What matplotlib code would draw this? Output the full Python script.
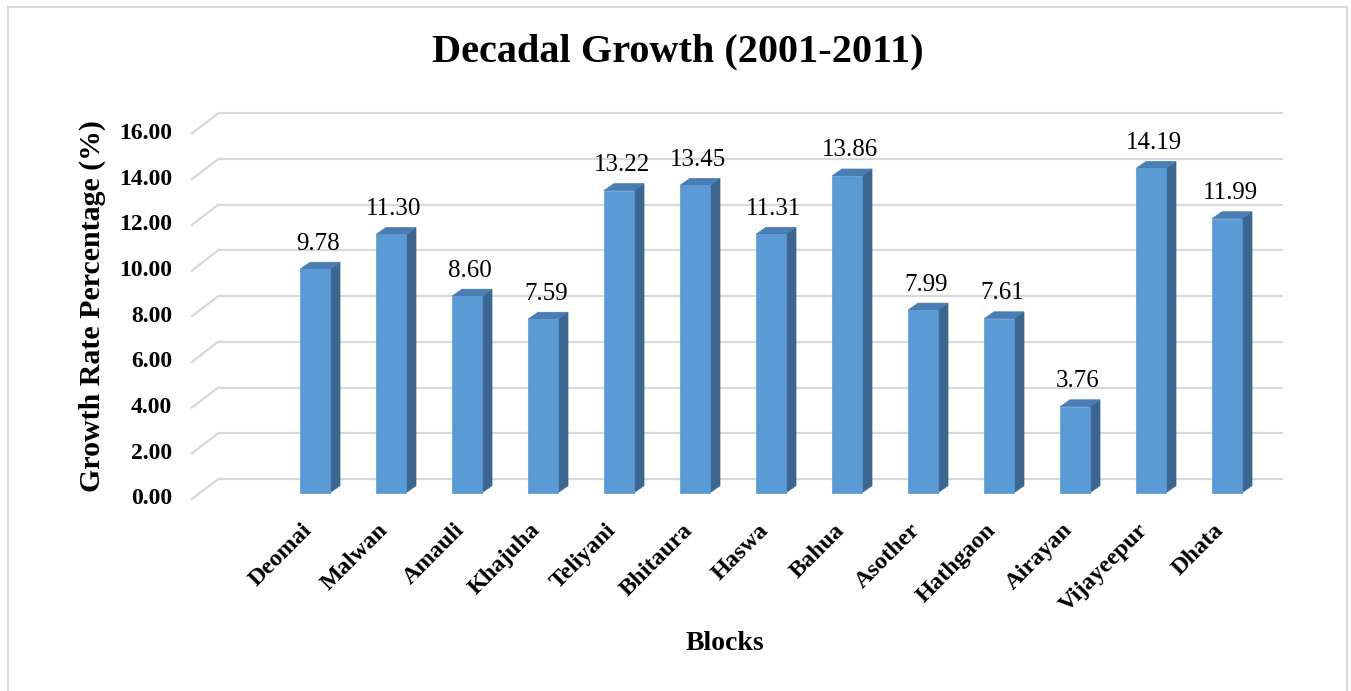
import matplotlib
matplotlib.use("Agg")
import matplotlib.pyplot as plt
from matplotlib.patches import Polygon, Rectangle

# ---- data ----
categories = ["Deomai", "Malwan", "Amauli", "Khajuha", "Teliyani", "Bhitaura",
              "Haswa", "Bahua", "Asother", "Hathgaon", "Airayan", "Vijayeepur", "Dhata"]
values = [9.78, 11.30, 8.60, 7.59, 13.22, 13.45, 11.31, 13.86, 7.99, 7.61, 3.76, 14.19, 11.99]
yticks = [0, 2, 4, 6, 8, 10, 12, 14, 16]
ytick_labels = [f"{t:.2f}" for t in yticks]
title = "Decadal Growth (2001-2011)"
ylabel = "Growth Rate Percentage (%)"
xlabel = "Blocks"

# ---- style ----
FONT = "Liberation Serif"
plt.rcParams['font.family'] = [FONT, 'DejaVu Serif']
W, H = 1351, 691
PX_X = 76.0      # pixels per category
PX_Y = 22.85     # pixels per unit value
X0, Y0 = 315.0, 492.7   # pixel of category 0 / value 0 (bar plane)

front_c = "#5B9BD5"
side_c = "#3B6690"
top_c = "#4A7DB4"
grid_c = "#D9D9D9"

fig = plt.figure(figsize=(W / 100, H / 100), dpi=100)
ax = fig.add_axes([0, 0, 1, 1])
ax.set_xlim(-X0 / PX_X, (W - X0) / PX_X)
ax.set_ylim((Y0 - H) / PX_Y, Y0 / PX_Y)
ax.axis("off")

# depth geometry
bw = 30 / PX_X
bdx, bdy = 10 / PX_X, 7 / PX_Y
wall_dy = (Y0 - 479) / PX_Y
front_dy = -(499 - Y0) / PX_Y
wall_x0 = (218 - X0) / PX_X
wall_x1 = (1283 - X0) / PX_X
front_x0 = (192 - X0) / PX_X

for t, lab in zip(yticks, ytick_labels):
    ax.plot([wall_x0, wall_x1], [t + wall_dy, t + wall_dy], color=grid_c, lw=1.6,
            zorder=1, solid_capstyle="butt")
    ax.plot([front_x0, wall_x0], [t + front_dy, t + wall_dy], color=grid_c, lw=1.6,
            zorder=1)
    ax.text((172 - X0) / PX_X, t + front_dy, lab, ha="right", va="center",
            fontsize=17, fontweight="bold", color="#000000")

for i, (cat, v) in enumerate(zip(categories, values)):
    xl, xr = i - bw / 2, i + bw / 2
    side = Polygon([(xr, 0), (xr + bdx, bdy), (xr + bdx, v + bdy), (xr, v)],
                   closed=True, facecolor=side_c, edgecolor=side_c, lw=0.5, zorder=3)
    top = Polygon([(xl, v), (xr, v), (xr + bdx, v + bdy), (xl + bdx, v + bdy)],
                  closed=True, facecolor=top_c, edgecolor=top_c, lw=0.5, zorder=3)
    front = Polygon([(xl, 0), (xr, 0), (xr, v), (xl, v)], closed=True,
                    facecolor=front_c, edgecolor=front_c, lw=0.5, zorder=4)
    for p in (side, top, front):
        ax.add_patch(p)
    ax.text(i + 0.04, v + bdy + 18.5 / PX_Y, f"{v:.2f}", ha="center", va="center",
            fontsize=18, color="#000000")
    ax.text(i - 0.08, (Y0 - 527) / PX_Y, cat, rotation=45, rotation_mode="anchor",
            ha="right", va="center", fontsize=17.5, fontweight="bold", color="#000000")

fig.text(678 / W, 1 - 52 / H, title, ha="center", va="center", fontsize=29,
         fontweight="bold")
fig.text(92 / W, 1 - 306 / H, ylabel, ha="center", va="center", rotation=90,
         fontsize=21.5, fontweight="bold")
fig.text(725 / W, 1 - 643 / H, xlabel, ha="center", va="center", fontsize=20,
         fontweight="bold")

# outer chart border
fig.add_artist(Rectangle((8 / W, -0.05), (1347 - 8) / W, 1.05 - 7 / H,
                         transform=fig.transFigure, fill=False, edgecolor=grid_c,
                         lw=1.5))

fig.savefig("out.png", dpi=100)
